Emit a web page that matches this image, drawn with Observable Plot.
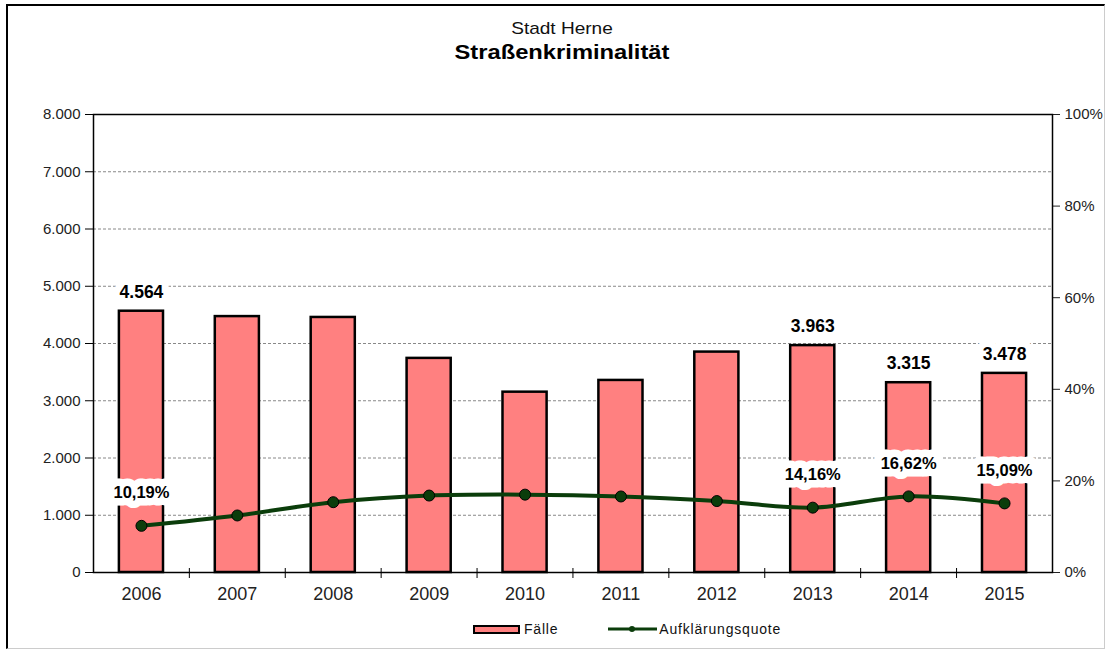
<!DOCTYPE html>
<html><head><meta charset="utf-8">
<script src="https://cdn.jsdelivr.net/npm/d3@7"></script>
<script src="https://cdn.jsdelivr.net/npm/@observablehq/plot@0.6"></script>
<style>
body{margin:0;background:#fff;font-family:"Liberation Sans",Arial,sans-serif}
#wrap{position:relative;width:1107px;height:650px;overflow:hidden;background:#fff}
#frame{position:absolute;left:6px;top:4px;width:1099px;height:645px;border-top:2px solid #000;border-left:2px solid #000;border-right:1px solid #ccc;border-bottom:1px solid #ccc;box-sizing:border-box}
#t1{position:absolute;left:0;width:1124px;top:19px;text-align:center;font-size:17px;color:#111;transform:scaleX(1.12)}
#t2{position:absolute;left:0;width:1124px;top:40px;text-align:center;font-size:21px;font-weight:bold;color:#000;transform:scaleX(1.13)}
#chart{position:absolute;left:0;top:95px}
#legend{position:absolute;top:621px;left:473px;font-size:14px;color:#111;display:flex;align-items:center;letter-spacing:0.8px}
.sw{display:inline-block;width:43px;height:5px;background:#FF8080;border:2px solid #000;margin-right:4px}
</style></head>
<body>
<div id="wrap">
<div id="frame"></div>
<div id="t1">Stadt Herne</div>
<div id="t2">Straßenkriminalität</div>
<div id="chart"></div>
<div id="legend">
 <span class="sw"></span><span>Fälle</span>
 <svg width="49" height="10" style="margin-left:50px;margin-right:2px"><line x1="0" y1="5" x2="49" y2="5" stroke="#0b3d0b" stroke-width="3"/><circle cx="24" cy="5" r="3" fill="#0b3d0b"/></svg><span>Aufklärungsquote</span>
</div>
</div>
<script>
const years = ["2006","2007","2008","2009","2010","2011","2012","2013","2014","2015"];
const faelle = [4564, 4470, 4455, 3740, 3150, 3355, 3850, 3963, 3315, 3478];
const quote = [10.19, 12.45, 15.35, 16.8, 17.0, 16.6, 15.6, 14.16, 16.62, 15.09];
const labeledYears = ["2006","2013","2014","2015"];
const leftTicks = [0,1000,2000,3000,4000,5000,6000,7000,8000];
const gridValues = [1000,2000,3000,4000,5000,6000,7000];
const rightTicks = [0,20,40,60,80,100];
const maxFaelle = 8000;

const de = d3.formatLocale({decimal: ",", thousands: ".", grouping: [3], currency: ["", " €"]});
const fmtInt = de.format(",d");
const fmtPct = de.format(".2f");

const data = years.map((y, i) => ({year: y, faelle: faelle[i], quote: quote[i]}));
const labeled = data.filter(d => labeledYears.includes(d.year));
const pctY = d => d.quote / 100 * maxFaelle;

const chart = Plot.plot({
  width: 1107,
  height: 515,
  marginLeft: 93,
  marginRight: 55,
  marginTop: 19,
  marginBottom: 38,
  style: {fontFamily: "Liberation Sans, Arial, sans-serif", color: "#222", background: "transparent"},
  x: {domain: years, paddingInner: 0.54, paddingOuter: 0.27, round: false},
  y: {domain: [0, maxFaelle]},
  marks: [
    Plot.ruleY(gridValues, {stroke: "#888", strokeDasharray: "3,2", strokeWidth: 1}),
    Plot.axisY({ticks: leftTicks, tickFormat: d => fmtInt(d), tickSize: 8, tickPadding: 5, fontSize: 15, label: null, stroke: "#000"}),
    Plot.axisY({anchor: "right", ticks: rightTicks.map(p => p / 100 * maxFaelle), tickFormat: d => Math.round(d / maxFaelle * 100) + "%", tickSize: 7, tickPadding: 5, fontSize: 15, label: null}),
    Plot.axisX({tickSize: 0, tickPadding: 15, fontSize: 18, label: null}),
    Plot.ruleX(years.slice(1), {x: d => d, y1: 0, y2: 0, dx: -48, insetTop: -4, insetBottom: -6, stroke: "#000"}),
    Plot.barY(data, {x: "year", y: "faelle", fill: "#FF8080", stroke: "#000", strokeWidth: 2.5}),
    Plot.frame({stroke: "#000", strokeWidth: 1.5}),
    Plot.line(data, {x: "year", y: pctY, stroke: "#0b3d0b", strokeWidth: 4, curve: "catmull-rom"}),
    Plot.dot(data, {x: "year", y: pctY, r: 5.5, fill: "#0b3d0b", stroke: "#000", strokeWidth: 1}),
    Plot.text(labeled, {x: "year", y: "faelle", text: d => fmtInt(d.faelle), dy: -19, fontSize: 17.5, fontWeight: "bold", fill: "#000", stroke: "#fff", strokeWidth: 14, strokeLinejoin: "round"}),
    Plot.text(labeled, {x: "year", y: pctY, text: d => fmtPct(d.quote) + "%", dy: -33, fontSize: 16.5, fontWeight: "bold", fill: "#000", stroke: "#fff", strokeWidth: 15, strokeLinejoin: "round"})
  ]
});
document.getElementById("chart").appendChild(chart);
</script>
</body></html>
